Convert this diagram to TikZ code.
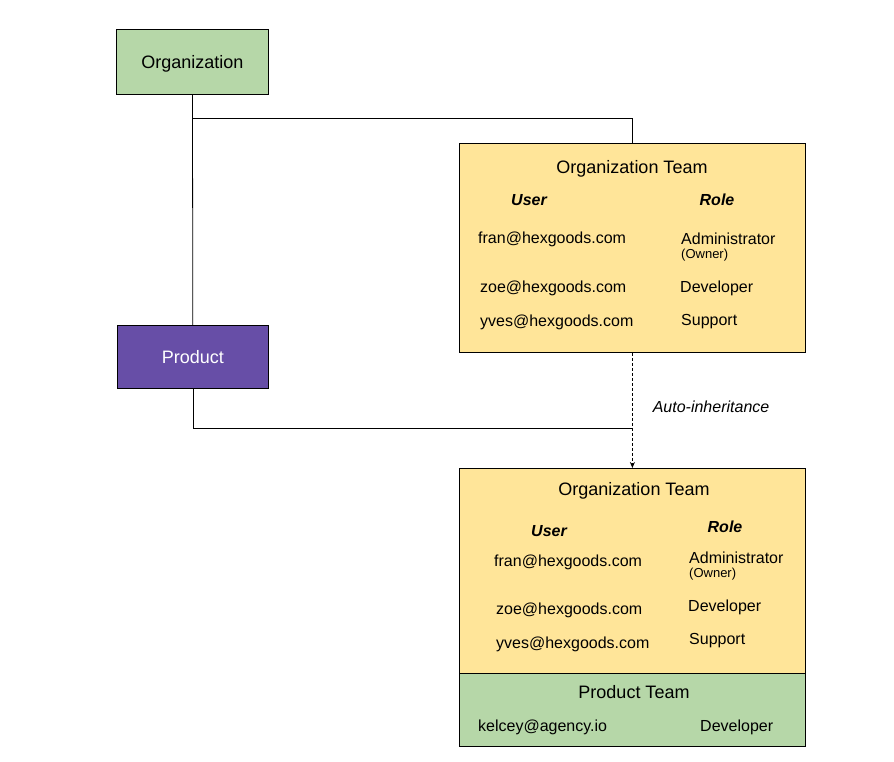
\documentclass[tikz,border=0pt]{standalone}
\usepackage{fontspec}
\setmainfont{Liberation Sans}
\usetikzlibrary{arrows.meta}
\definecolor{orggreen}{HTML}{B6D7A8}
\definecolor{prodpurple}{HTML}{674EA7}
\definecolor{teamyellow}{HTML}{FFE599}
\begin{document}
\begin{tikzpicture}[x=1pt,y=-1pt,
  box/.style={draw,line width=0.8pt,anchor=north west,inner sep=0pt},
  title/.style={inner sep=0pt,yshift=-2pt,font=\fontsize{18}{21}\selectfont},
  head/.style={inner sep=0pt,yshift=-2pt,font=\fontsize{16}{19}\selectfont\bfseries\itshape},
  entry/.style={anchor=west,inner sep=0pt,yshift=-2pt,font=\fontsize{16}{19}\selectfont},
  small/.style={anchor=west,inner sep=0pt,yshift=-1pt,font=\fontsize{13}{15}\selectfont},
  link/.style={line width=0.8pt}]
      \useasboundingbox (0,0) rectangle (894,762);

      \node[box, fill=orggreen, minimum width=152pt, minimum height=65pt, text depth=0pt, font=\fontsize{18}{21}\selectfont] (org) at (116,29) {Organization};
      \node[box, fill=prodpurple, text=white, minimum width=151pt, minimum height=63pt, text depth=0pt, font=\fontsize{18}{21}\selectfont] (prod) at (117,325) {Product};

      \node[box, fill=teamyellow, minimum width=346pt, minimum height=209pt] (team1) at (459,143) {};
      \node[title] (t1) at (632,167) {Organization Team};
      \node[head] (u1) at (529,198) {User};
      \node[head] (r1) at (717,198) {Role};
      \node[entry] (e11) at (478,237) {fran@hexgoods.com};
      \node[entry] (e12) at (480,286) {zoe@hexgoods.com};
      \node[entry] (e13) at (480,320) {yves@hexgoods.com};
      \node[entry] (o11) at (681,237) {Administrator};
      \node[small] (w1) at (681,254) {(Owner)};
      \node[entry] (o12) at (680,286) {Developer};
      \node[entry] (o13) at (681,320) {Support};

      \node[box, fill=teamyellow, minimum width=346pt, minimum height=205pt] (team2) at (459,468) {};
      \node[box, fill=orggreen, minimum width=346pt, minimum height=73pt] (pteam) at (459,673) {};
      \node[title] (t2) at (634,489) {Organization Team};
      \node[head] (u2) at (549,529) {User};
      \node[head] (r2) at (725,525) {Role};
      \node[entry] (e21) at (494,560) {fran@hexgoods.com};
      \node[entry] (e22) at (496,608) {zoe@hexgoods.com};
      \node[entry] (e23) at (496,642) {yves@hexgoods.com};
      \node[entry] (o21) at (689,556) {Administrator};
      \node[small] (w2) at (689,573) {(Owner)};
      \node[entry] (o22) at (688,605) {Developer};
      \node[entry] (o23) at (689,639) {Support};
      \node[title] (t3) at (634,690) {Product Team};
      \node[entry] (e31) at (478,725) {kelcey@agency.io};
      \node[entry] (o31) at (700,725) {Developer};

      \coordinate (j1) at (192,118);
      \coordinate (j2) at (632,428);
      \draw[link] (org) -- (prod);
      \draw[link] (j1) -| (team1.north);
      \draw[link] (prod) |- (j2);
      \draw[link, dash pattern=on 3pt off 2pt, -{Stealth[length=6pt,width=5pt]}] (team1.south) -- (team2.north)
        node [pos=0.45, right=20pt, inner sep=0pt, yshift=-2pt, font=\fontsize{16}{19}\selectfont\itshape] (auto) {Auto-inheritance};
\end{tikzpicture}
\end{document}
